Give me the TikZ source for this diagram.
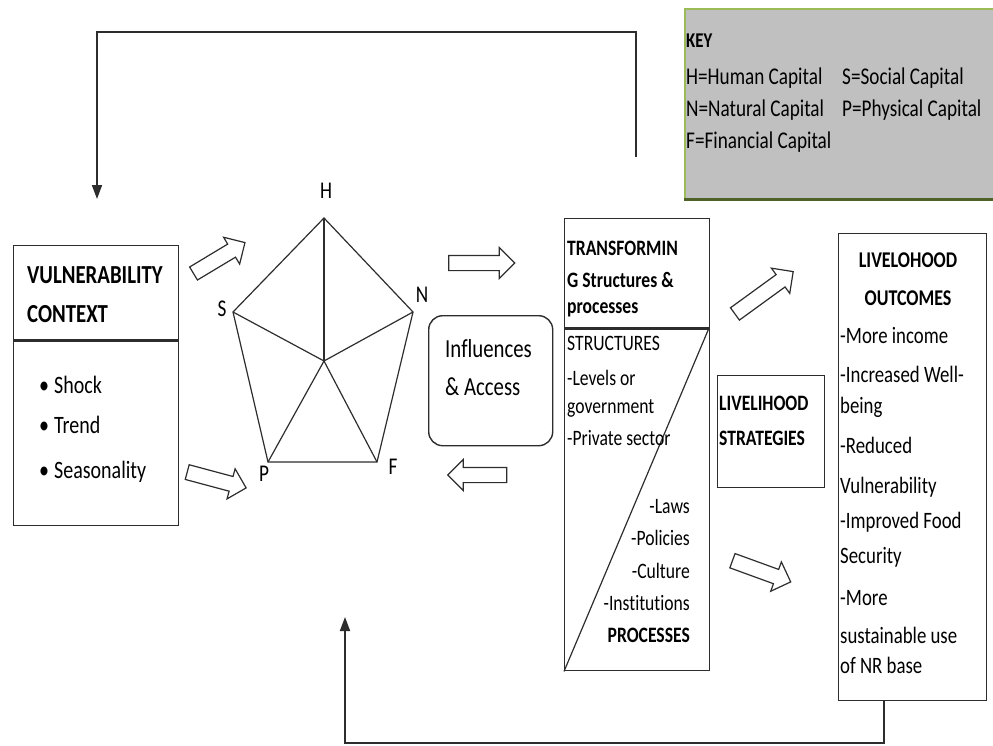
\documentclass[tikz,border=0pt]{standalone}
\usepackage{fontspec}
\setmainfont{Carlito}
\newfontfamily\condfont[FakeStretch=0.8, Ligatures=NoCommon]{Carlito}
\usetikzlibrary{shapes.arrows,arrows.meta}

\definecolor{keygray}{RGB}{192,192,192}
\definecolor{keyedge}{RGB}{155,187,89}
\definecolor{keyshade}{RGB}{79,98,40}
\definecolor{linegray}{RGB}{45,45,45}

\tikzset{
  box/.style={draw=linegray, line width=1.4pt, inner sep=0pt, anchor=north west},
  divider/.style={draw=linegray, line width=3pt},
  body/.style={inner sep=0pt, font=\condfont\fontsize{#1}{#1}\selectfont},
  head/.style={inner sep=0pt, font=\condfont\bfseries\fontsize{#1}{#1}\selectfont},
  pent/.style={draw=linegray, line width=1.2pt},
  blk/.style={single arrow, draw=linegray, fill=white, line width=1.2pt, inner sep=7pt,
    single arrow head extend=8pt, minimum height=#1},
  feedback/.style={draw=linegray, line width=1.8pt}
}

\begin{document}
\begin{tikzpicture}[x=1pt, y=-1pt]
  \useasboundingbox (0,0) rectangle (993,745);

  % key
  \node[box, draw=keyedge, fill=keygray, line width=1.5pt, minimum width=313pt, minimum height=190pt] (keyb) at (684,8) {};
  \draw[keyshade, line width=3pt] (684,199) -- (997,199);
  \node[head=21, anchor=base west] (key) at (686,47) {KEY};
  \node[body=24, anchor=base west] (kh) at (686,84) {H=Human Capital};
  \node[body=24, anchor=base west] (ks) at (842,84) {S=Social Capital};
  \node[body=24, anchor=base west] (kn) at (686,116) {N=Natural Capital};
  \node[body=24, anchor=base west] (kp) at (842,116) {P=Physical Capital};
  \node[body=24, anchor=base west] (kf) at (686,148) {F=Financial Capital};

  % vulnerability context
  \node[box, minimum width=165pt, minimum height=280pt] (vuln) at (13,245) {};
  \draw[divider] (13,340) -- (178,340);
  \node[head=26, anchor=base west] (vt1) at (27,283) {VULNERABILITY};
  \node[head=26, anchor=base west] (vt2) at (27,322) {CONTEXT};
  \foreach \w/\y [count=\i] in {Shock/393, Trend/433, Seasonality/478}
    \node[body=25, anchor=base west] (vb\i) at (39,\y) {\textbullet\hspace{5pt}\w};

  % asset pentagon
  \coordinate (H) at (324,218);
  \coordinate (N) at (413,312);
  \coordinate (F) at (377,462);
  \coordinate (P) at (268,462);
  \coordinate (S) at (233,312);
  \coordinate (C) at (324,361);
  \draw[pent] (H) -- (N) -- (F) -- (P) -- (S) -- cycle;
  \foreach \v in {H,N,F,P,S}
    \draw[pent] (C) -- (\v);
  \node[body=24] (hl) at (326,191) {H};
  \node[body=24] (nl) at (422,295) {N};
  \node[body=24] (fl) at (393,467) {F};
  \node[body=24] (pl) at (264,474) {P};
  \node[body=24] (sl) at (222,309) {S};

  % influences
  \node[box, rounded corners=14pt, minimum width=124pt, minimum height=130pt] (infl) at (428,315) {};
  \node[body=26, anchor=base west] (in1) at (445,357) {Influences};
  \node[body=26, anchor=base west] (in2) at (445,395) {\& Access};

  % transforming structures
  \node[box, minimum width=145pt, minimum height=452pt] (trans) at (564,218) {};
  \draw[divider] (564,328) -- (709,328);
  \draw[pent] (trans.south west) -- (709,328);
  \node[head=22, anchor=base west] (tr1) at (567,255) {TRANSFORMIN};
  \node[head=22, anchor=base west] (tr2) at (567,287) {G Structures \&};
  \node[head=22, anchor=base west] (tr3) at (567,313) {processes};
  \foreach \w/\y [count=\i] in {STRUCTURES/350, -Levels or/385, government/413, -Private sector/445}
    \node[body=22, anchor=base west] (ts\i) at (567,\y) {\w};
  \foreach \w/\y [count=\i] in {-Laws/513, -Policies/545, -Culture/578, -Institutions/610}
    \node[body=22, anchor=base east] (tp\i) at (690,\y) {\w};
  \node[head=22, anchor=base east] (tproc) at (690,642) {PROCESSES};

  % strategies
  \node[box, minimum width=107pt, minimum height=112pt] (strat) at (717,375) {};
  \node[head=22, anchor=base west] (st1) at (719,410) {LIVELIHOOD};
  \node[head=22, anchor=base west] (st2) at (719,445) {STRATEGIES};

  % outcomes
  \node[box, minimum width=148pt, minimum height=467pt] (out) at (838,233) {};
  \node[head=22.5, anchor=base] (ot1) at (908,267) {LIVELOHOOD};
  \node[head=22.5, anchor=base] (ot2) at (908,305) {OUTCOMES};
  \foreach \w/\y [count=\i] in {-More income/343, -Increased Well-/382, being/413, -Reduced/453,
      Vulnerability/493, -Improved Food/528, Security/563, -More/605, sustainable use/643, of NR base/673}
    \node[body=23.5, anchor=base west] (ob\i) at (840,\y) {\w};

  % hollow arrows
  \node[blk=60, rotate=31] (a1) at (216,260) {};
  \node[blk=61, rotate=-15] (a2) at (213,479) {};
  \node[blk=66] (a3) at (478,263) {};
  \node[blk=59, rotate=180] (a4) at (481,475) {};
  \node[blk=72, rotate=36] (a5) at (761,295) {};
  \node[blk=62, rotate=-20] (a6) at (758,570) {};

  % feedback loops
  \coordinate (topstart) at (636,157);
  \coordinate (toptip) at (97,199);
  \draw[feedback, -{Triangle[width=10pt,length=14pt]}] (topstart) -- ++(0,-125) -| (toptip);
  \coordinate (botstart) at (884,700);
  \coordinate (bottip) at (345,617);
  \draw[feedback, -{Triangle[width=10pt,length=14pt]}] (botstart) -- ++(0,43) -| (bottip);
\end{tikzpicture}
\end{document}
